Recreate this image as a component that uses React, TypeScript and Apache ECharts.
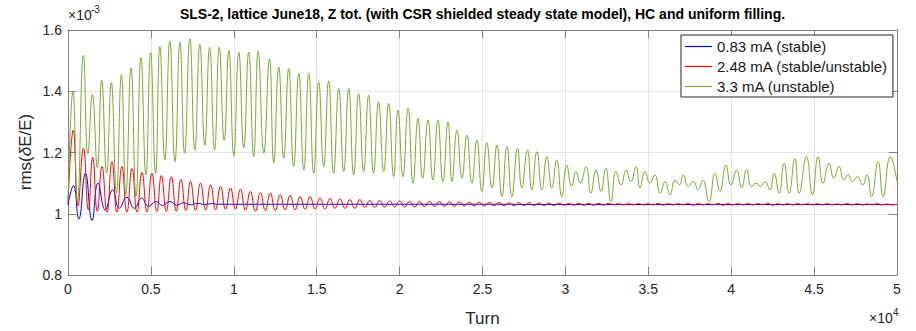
import React, { useEffect, useRef } from 'react';
import * as echarts from 'echarts';

const FONT = '"Liberation Sans", Arial, Helvetica, sans-serif';

const titleText =
  'SLS-2, lattice June18, Z tot. (with CSR shielded steady state model), HC and uniform filling.';
const xAxisName = 'Turn';
const seriesNames = ['0.83 mA (stable)', '2.48 mA (stable/unstable)', '3.3 mA (unstable)'];
const seriesColors = ['#0000ff', '#ff0000', '#77ac30'];

// x: turn, y: rms(dE/E) in units of 1e-3 — extremes
const blueData: [number, number][] = [
  [0, 1.029], [330, 1.092], [650, 0.983], [1050, 1.132], [1450, 0.978], [1810, 1.1],
  [2250, 1.013], [2690, 1.078], [3100, 1.018], [3550, 1.054], [4000, 1.018], [4440, 1.051],
  [4860, 1.024], [5300, 1.04], [5700, 1.027], [6140, 1.04], [6570, 1.028], [6970, 1.036],
  [7390, 1.029], [7810, 1.034], [8230, 1.03], [8650, 1.033], [9070, 1.031], [10000, 1.031],
  [15000, 1.031], [20000, 1.031], [25000, 1.031], [30000, 1.03], [35000, 1.03], [40000, 1.03],
  [45000, 1.03], [50000, 1.03],
];

const redData: [number, number][] = [
  [0, 1.03], [320, 1.273], [600, 1.026], [930, 1.214], [1230, 1.013], [1490, 1.184],
  [1770, 1.008], [2050, 1.154], [2350, 1.005], [2650, 1.17], [2950, 1.005], [3250, 1.154],
  [3550, 1.005], [3860, 1.148], [4160, 1.005], [4460, 1.135], [4760, 1.006], [5060, 1.132],
  [5360, 1.008], [5630, 1.125], [5930, 1.008], [6230, 1.121], [6530, 1.008], [6810, 1.112],
  [7110, 1.01], [7390, 1.105], [7690, 1.012], [7990, 1.1], [8300, 1.013], [8600, 1.094],
  [8900, 1.013], [9200, 1.089], [9500, 1.014], [9800, 1.084], [10100, 1.015], [10400, 1.08],
  [10700, 1.012], [11000, 1.073], [11300, 1.008], [11600, 1.069], [11900, 1.011], [12200, 1.067],
  [12500, 1.011], [12800, 1.062], [13100, 1.013], [13400, 1.06], [13700, 1.013], [14000, 1.056],
  [14300, 1.015], [14600, 1.056], [14900, 1.016], [15200, 1.051], [15500, 1.016], [15800, 1.049],
  [16100, 1.018], [16400, 1.048], [16700, 1.018], [17000, 1.046], [17300, 1.018], [17600, 1.046],
  [17900, 1.021], [18200, 1.043], [18500, 1.021], [18800, 1.043], [19100, 1.022], [19400, 1.042],
  [19700, 1.022], [20000, 1.042], [20300, 1.022], [20600, 1.04], [20900, 1.022], [21200, 1.04],
  [21500, 1.023], [21800, 1.04], [22100, 1.024], [22400, 1.04], [22700, 1.024], [23000, 1.039],
  [23300, 1.024], [23600, 1.039], [23900, 1.025], [24200, 1.038], [24500, 1.025], [24800, 1.038],
  [25100, 1.025], [25400, 1.037], [25700, 1.026], [26000, 1.037], [26300, 1.026], [26600, 1.036],
  [26900, 1.026], [27200, 1.036], [27500, 1.027], [27800, 1.036], [28100, 1.027], [28400, 1.035],
  [28700, 1.027], [29000, 1.035], [29300, 1.027], [29600, 1.035], [29900, 1.028], [30200, 1.034],
  [30500, 1.028], [30800, 1.034], [31100, 1.028], [31400, 1.034], [31700, 1.028], [32000, 1.034],
  [32300, 1.028], [32600, 1.034], [32900, 1.029], [33200, 1.033], [33500, 1.029], [33800, 1.033],
  [34100, 1.029], [34400, 1.033], [34700, 1.029], [35000, 1.033], [35300, 1.029], [35600, 1.034],
  [35900, 1.028], [36200, 1.033], [36500, 1.029], [36800, 1.033], [37100, 1.029], [37400, 1.034],
  [37700, 1.028], [38000, 1.033], [38300, 1.029], [38600, 1.033], [38900, 1.029], [39200, 1.034],
  [39500, 1.028], [39800, 1.033], [40100, 1.029], [40400, 1.033], [40700, 1.029], [41000, 1.033],
  [41300, 1.029], [41600, 1.033], [41900, 1.029], [42200, 1.034], [42500, 1.028], [42800, 1.033],
  [43100, 1.029], [43400, 1.033], [43700, 1.029], [44000, 1.033], [44300, 1.029], [44600, 1.033],
  [44900, 1.029], [45200, 1.033], [45500, 1.029], [45800, 1.033], [46100, 1.029], [46400, 1.032],
  [46700, 1.029], [47000, 1.033], [47300, 1.029], [47600, 1.033], [47900, 1.029], [48200, 1.032],
  [48500, 1.029], [48800, 1.033], [49100, 1.029], [49400, 1.032], [49700, 1.029], [50000, 1.031],
];

const greenData: [number, number][] = [
  [0, 1.04], [300, 1.4], [570, 1.04], [930, 1.517], [1200, 1.195], [1470, 1.39],
  [1770, 1.15], [2030, 1.436], [2330, 1.133], [2610, 1.428], [2920, 1.068], [3220, 1.454],
  [3490, 1.062], [3800, 1.476], [4100, 1.056], [4400, 1.51], [4700, 1.127], [4980, 1.526],
  [5280, 1.132], [5540, 1.546], [5840, 1.176], [6140, 1.564], [6450, 1.17], [6750, 1.56],
  [7030, 1.198], [7350, 1.571], [7650, 1.208], [7950, 1.553], [8250, 1.224], [8540, 1.544],
  [8840, 1.208], [9120, 1.544], [9420, 1.24], [9700, 1.533], [10000, 1.19], [10300, 1.528],
  [10600, 1.215], [10900, 1.528], [11200, 1.186], [11470, 1.531], [11810, 1.198], [12150, 1.506],
  [12410, 1.166], [12710, 1.479], [13010, 1.182], [13310, 1.474], [13610, 1.154], [13920, 1.458],
  [14220, 1.143], [14520, 1.458], [14820, 1.132], [15120, 1.43], [15420, 1.154], [15720, 1.434],
  [16020, 1.132], [16330, 1.409], [16630, 1.138], [16930, 1.409], [17230, 1.127], [17530, 1.392],
  [17830, 1.138], [18130, 1.387], [18430, 1.132], [18730, 1.365], [19040, 1.138], [19340, 1.36],
  [19640, 1.121], [19900, 1.338], [20200, 1.121], [20510, 1.344], [20810, 1.1], [21110, 1.311],
  [21390, 1.116], [21710, 1.306], [22010, 1.11], [22310, 1.306], [22610, 1.105], [22920, 1.3],
  [23160, 1.105], [23460, 1.273], [23760, 1.116], [24060, 1.257], [24360, 1.1], [24660, 1.24],
  [24960, 1.073], [25260, 1.232], [25570, 1.084], [25870, 1.224], [26170, 1.056], [26470, 1.219],
  [26770, 1.056], [27110, 1.214], [27370, 1.084], [27710, 1.208], [27970, 1.078], [28280, 1.203],
  [28580, 1.078], [28880, 1.186], [29180, 1.084], [29480, 1.176], [29780, 1.056], [30080, 1.159],
  [30380, 1.089], [30640, 1.138], [30890, 1.1], [31250, 1.154], [31530, 1.067], [31850, 1.143],
  [32150, 1.073], [32430, 1.149], [32750, 1.04], [33050, 1.138], [33360, 1.094], [33660, 1.143],
  [33940, 1.105], [34260, 1.154], [34500, 1.084], [34800, 1.138], [35100, 1.1], [35400, 1.127],
  [35710, 1.067], [36010, 1.105], [36310, 1.062], [36610, 1.11], [36870, 1.094], [37110, 1.127],
  [37410, 1.089], [37710, 1.105], [38010, 1.078], [38280, 1.11], [38660, 1.04], [39020, 1.132],
  [39320, 1.073], [39680, 1.159], [39980, 1.094], [40330, 1.143], [40630, 1.084], [40930, 1.143],
  [41230, 1.089], [41530, 1.1], [41770, 1.089], [42030, 1.105], [42330, 1.078], [42590, 1.132],
  [42890, 1.067], [43190, 1.165], [43490, 1.067], [43840, 1.181], [44100, 1.067], [44540, 1.186],
  [44900, 1.062], [45240, 1.186], [45540, 1.1], [45900, 1.165], [46190, 1.116], [46510, 1.154],
  [46790, 1.11], [47050, 1.127], [47310, 1.105], [47610, 1.121], [47920, 1.094], [48190, 1.127],
  [48460, 1.056], [48860, 1.17], [49160, 1.056], [49600, 1.186], [50000, 1.105],
];

const seriesData = [blueData, redData, greenData];

const X_MIN = 0;
const X_MAX = 50000;
const X_INTERVAL = 5000;
const Y_MIN = 0.8;
const Y_MAX = 1.6;
const Y_INTERVAL = 0.2;

export default function App() {
  const ref = useRef<HTMLDivElement>(null);

  useEffect(() => {
    if (!ref.current) return;
    const chart = echarts.init(ref.current, undefined, { renderer: 'svg' });

    const axisLineStyle = { color: '#7f7f7f', width: 1 };
    const tickStyle = { show: true, inside: true, length: 8, lineStyle: { color: '#7f7f7f', width: 1 } };
    const labelStyle = { color: '#262626', fontSize: 14, fontFamily: FONT };

    const option: any = {
      animation: false,
      backgroundColor: '#ffffff',
      grid: { left: 68, right: 19, top: 30, bottom: 56, containLabel: false },
      legend: {
        orient: 'vertical',
        left: 681,
        top: 35,
        icon: 'rect',
        itemWidth: 27,
        itemHeight: 1.2,
        itemGap: 5,
        padding: [4, 5, 3, 4],
        borderColor: '#262626',
        borderWidth: 1,
        backgroundColor: '#ffffff',
        selectedMode: false,
        textStyle: { fontSize: 15, color: '#1a1a1a', fontFamily: FONT },
        data: seriesNames,
      },
      xAxis: [
        {
          type: 'value',
          min: X_MIN,
          max: X_MAX,
          interval: X_INTERVAL,
          axisLine: { show: true, onZero: false, lineStyle: axisLineStyle },
          axisTick: tickStyle,
          axisLabel: { ...labelStyle, margin: 7, formatter: (v: number) => String(v / 10000) },
          splitLine: { show: true, lineStyle: { color: '#e3e3e3', width: 1 } },
        },
        {
          type: 'value',
          position: 'top',
          min: X_MIN,
          max: X_MAX,
          interval: X_INTERVAL,
          axisLine: { show: true, onZero: false, lineStyle: axisLineStyle },
          axisTick: tickStyle,
          axisLabel: { show: false },
          splitLine: { show: false },
        },
      ],
      yAxis: [
        {
          type: 'value',
          min: Y_MIN,
          max: Y_MAX,
          interval: Y_INTERVAL,
          axisLine: { show: true, onZero: false, lineStyle: axisLineStyle },
          axisTick: tickStyle,
          axisLabel: {
            ...labelStyle,
            margin: 6,
            formatter: (v: number) => String(Math.round(v * 10) / 10),
          },
          splitLine: { show: true, lineStyle: { color: '#e3e3e3', width: 1 } },
        },
        {
          type: 'value',
          position: 'right',
          min: Y_MIN,
          max: Y_MAX,
          interval: Y_INTERVAL,
          axisLine: { show: true, onZero: false, lineStyle: axisLineStyle },
          axisTick: tickStyle,
          axisLabel: { show: false },
          splitLine: { show: false },
        },
      ],
      series: seriesNames.map((name, i) => ({
        name,
        type: 'line',
        xAxisIndex: 0,
        yAxisIndex: 0,
        data: seriesData[i],
        symbol: 'none',
        showSymbol: false,
        smooth: true,
        clip: true,
        color: seriesColors[i],
        itemStyle: { color: seriesColors[i] },
        lineStyle: { color: seriesColors[i], width: 1 },
        z: 2 + i,
      })),
      graphic: [
        {
          type: 'text',
          x: 482.5,
          y: 14,
          style: {
            text: titleText,
            fill: '#000000',
            fontSize: 14,
            fontWeight: 'bold',
            fontFamily: FONT,
            align: 'center',
            verticalAlign: 'middle',
          },
        },
        {
          type: 'text',
          x: 68,
          y: 8,
          style: { text: '×10', fill: '#262626', fontSize: 14, fontFamily: FONT },
        },
        {
          type: 'text',
          x: 91,
          y: 4,
          style: { text: '-3', fill: '#262626', fontSize: 10, fontFamily: FONT },
        },
        {
          type: 'text',
          x: 869,
          y: 311,
          style: { text: '×10', fill: '#262626', fontSize: 14, fontFamily: FONT },
        },
        {
          type: 'text',
          x: 893,
          y: 307,
          style: { text: '4', fill: '#262626', fontSize: 10, fontFamily: FONT },
        },
        {
          type: 'text',
          x: 482.5,
          y: 318,
          style: {
            text: xAxisName,
            fill: '#262626',
            fontSize: 17,
            fontFamily: FONT,
            align: 'center',
            verticalAlign: 'middle',
          },
        },
        {
          type: 'text',
          x: 25,
          y: 152,
          rotation: Math.PI / 2,
          style: {
            text: '{n|rms(}{d|δ}{n|E/E)}',
            fill: '#262626',
            fontSize: 17,
            fontFamily: FONT,
            align: 'center',
            verticalAlign: 'middle',
            rich: {
              n: { fontSize: 17, fontFamily: FONT, fill: '#262626' },
              d: { fontSize: 17, fontFamily: FONT, fill: '#262626', fontStyle: 'italic' },
            },
          },
        },
      ],
    };

    chart.setOption(option);
    return () => {
      chart.dispose();
    };
  }, []);

  return (
    <div
      ref={ref}
      style={{ position: 'absolute', left: 0, top: 0, width: 916, height: 331, background: '#fff' }}
    />
  );
}
